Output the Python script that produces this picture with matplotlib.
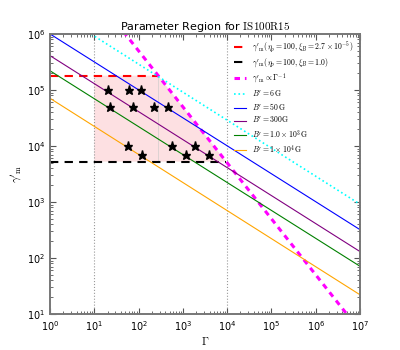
import matplotlib
matplotlib.use("Agg")
import matplotlib.pyplot as plt
from matplotlib.font_manager import FontProperties

# B' lines: value of gamma'_m at Gamma=1 and Gamma=1e7
b_labels = [r"$B'=6\,{\rm G}$", r"$B'=50\,{\rm G}$", r"$B'=300{\rm G}$",
            r"$B'=1.0\times10^3\,{\rm G}$", r"$B'=1\times10^4\,{\rm G}$"]
b_colors = ["cyan", "blue", "purple", "green", "orange"]
b_styles = [":", "-", "-", "-", "-"]
b_gamma_lo = [2.9e6, 1.0e6, 4.1e5, 2.2e5, 7.1e4]
b_gamma_hi = [9.1e2, 3.2e2, 1.3e2, 7.1e1, 2.2e1]
b_ends = [1, 1e7]

# gamma'_m lines
red_x = [1, 275]
red_y = [1.8e5, 1.8e5]
black_x = [1, 9500]
black_y = [5.25e3, 5.25e3]
mag_x = [1, 1e7]
mag_y = [5e7, 5.0]

# shaded region corners
region_x = [10, 10, 275, 9500]
region_y = [5.25e3, 1.8e5, 1.8e5, 5.25e3]

# stars
star_x = [20, 60, 115, 23, 76, 226, 454, 58, 566, 1900, 120, 1170, 3810]
star_y = [1e5, 1e5, 1e5, 4.9e4, 4.9e4, 4.9e4, 4.9e4, 1e4, 1e4, 1e4,
          6.9e3, 6.9e3, 6.9e3]

vlines_x = [10, 1e4]


def draw(ax):
    ax.fill(region_x, region_y, color="#fde0e2", lw=0, zorder=0)
    ax.plot([275, 275], [5.25e3, 1.8e5], color="#d8d0d0", lw=0.6, zorder=0.5)
    for xv in vlines_x:
        ax.axvline(xv, color="#999999", ls=":", lw=0.8, zorder=1)
    ax.plot(red_x, red_y, "r--", lw=1.5, dashes=(4, 3),
            label=r"$\gamma'_{\rm m}(\eta_p=100,\xi_B=2.7\times10^{-5})$")
    ax.plot(black_x, black_y, "k--", lw=1.5, dashes=(4, 3),
            label=r"$\gamma'_{\rm m}(\eta_p=100,\xi_B=1.0)$")
    ax.plot(mag_x, mag_y, "--", color="magenta", lw=2.2, dashes=(1.8, 1.6),
            label=r"$\gamma'_{\rm m}\propto\Gamma^{-1}$")
    for lab, c, s, lo, hi in zip(b_labels, b_colors, b_styles, b_gamma_lo, b_gamma_hi):
        ax.plot(b_ends, [lo, hi], color=c, ls=s, lw=0.8 if s == "-" else 1.2, label=lab)
    ax.plot(star_x, star_y, "k*", ms=6.5, zorder=5)

    ax.set_xscale("log")
    ax.set_yscale("log")
    ax.set_xlim(1, 1e7)
    ax.set_ylim(10, 1e6)
    ax.set_xlabel(r"$\Gamma$", fontsize=8, math_fontfamily="cm", labelpad=2)
    ax.set_ylabel(r"$\gamma'_{\rm m}$", fontsize=8, math_fontfamily="cm", labelpad=2)
    ax.set_title(r"Parameter Region for $\rm IS100R15$", fontsize=8,
                 math_fontfamily="cm", pad=3)
    ax.tick_params(which="both", direction="in", top=True, right=True,
                   labelsize=7, color="#555555")
    ax.tick_params(which="major", length=4)
    ax.tick_params(which="minor", length=2)
    for sp in ax.spines.values():
        sp.set_color("#777777")
        sp.set_linewidth(1.4)
    ax.legend(loc="upper right", frameon=False, handlelength=1.6,
              prop=FontProperties(size=5.6, math_fontfamily="cm"),
              labelspacing=0.32, borderaxespad=0.4)


def create_plot(path_plot):
    fig, ax = plt.subplots(figsize=(4, 3.5), dpi=100)
    fig.subplots_adjust(left=0.125, right=0.9, bottom=0.103, top=0.903)
    draw(ax)
    fig.savefig(path_plot, dpi=100)


if __name__ == "__main__":
    create_plot("out.png")
